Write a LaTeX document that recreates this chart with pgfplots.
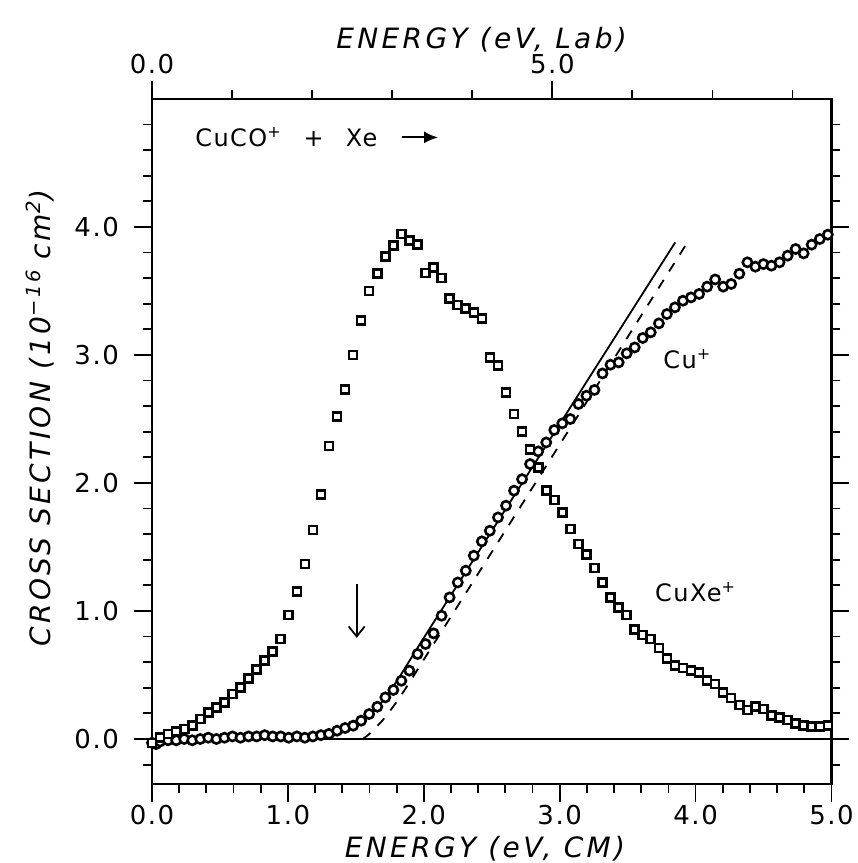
\documentclass[border=0pt]{standalone}
\usepackage{fontspec}
\setmainfont{DejaVu Sans}[LetterSpace=6]
\newfontfamily\labfont{DejaVu Sans}[LetterSpace=12]
\usepackage{pgfplots}
\pgfplotsset{compat=1.18}
\usetikzlibrary{arrows.meta}

\pgfplotstableread{
x y
0.000 -0.03
0.059 0.01
0.118 0.04
0.178 0.06
0.237 0.078
0.296 0.104
0.355 0.156
0.414 0.208
0.474 0.247
0.533 0.286
0.592 0.351
0.651 0.403
0.710 0.474
0.770 0.541
0.829 0.612
0.888 0.682
0.947 0.781
1.006 0.969
1.066 1.153
1.125 1.367
1.184 1.633
1.243 1.91
1.302 2.29
1.362 2.52
1.421 2.73
1.480 3.00
1.539 3.27
1.598 3.50
1.658 3.635
1.717 3.77
1.776 3.854
1.835 3.945
1.894 3.893
1.954 3.862
2.013 3.64
2.072 3.685
2.131 3.60
2.190 3.443
2.250 3.39
2.309 3.364
2.368 3.333
2.427 3.286
2.486 2.981
2.546 2.92
2.605 2.708
2.664 2.539
2.723 2.40
2.782 2.26
2.842 2.12
2.901 1.94
2.960 1.867
3.019 1.77
3.078 1.64
3.138 1.523
3.197 1.44
3.256 1.336
3.315 1.223
3.374 1.106
3.434 1.028
3.493 0.969
3.552 0.854
3.611 0.812
3.670 0.781
3.730 0.711
3.789 0.63
3.848 0.573
3.907 0.555
3.966 0.534
4.026 0.52
4.085 0.455
4.144 0.43
4.203 0.364
4.262 0.32
4.322 0.266
4.381 0.227
4.440 0.252
4.499 0.234
4.558 0.182
4.618 0.169
4.677 0.148
4.736 0.122
4.795 0.104
4.854 0.10
4.914 0.10
4.973 0.104
}\cuxe

\pgfplotstableread{
x y
0.000 -0.03
0.030 -0.04
0.059 -0.02
0.118 -0.01
0.178 -0.01
0.237 0.00
0.296 -0.01
0.355 0.00
0.414 0.01
0.474 0.00
0.533 0.01
0.592 0.02
0.651 0.01
0.710 0.02
0.770 0.02
0.829 0.03
0.888 0.02
0.947 0.02
1.006 0.01
1.066 0.02
1.125 0.01
1.184 0.02
1.243 0.03
1.302 0.04
1.362 0.065
1.421 0.086
1.480 0.104
1.539 0.143
1.598 0.195
1.658 0.252
1.717 0.325
1.776 0.383
1.835 0.455
1.894 0.534
1.954 0.664
2.013 0.742
2.072 0.825
2.131 0.963
2.190 1.106
2.250 1.223
2.309 1.315
2.368 1.432
2.427 1.544
2.486 1.627
2.546 1.731
2.605 1.823
2.664 1.94
2.723 2.03
2.782 2.148
2.842 2.247
2.901 2.317
2.960 2.414
3.019 2.466
3.078 2.50
3.138 2.617
3.197 2.682
3.256 2.727
3.315 2.856
3.374 2.924
3.434 2.942
3.493 3.013
3.552 3.059
3.611 3.133
3.670 3.177
3.730 3.247
3.789 3.32
3.848 3.372
3.907 3.424
3.966 3.45
4.026 3.477
4.085 3.534
4.144 3.59
4.203 3.534
4.262 3.555
4.322 3.635
4.381 3.724
4.440 3.69
4.499 3.71
4.558 3.698
4.618 3.724
4.677 3.776
4.736 3.828
4.795 3.794
4.854 3.862
4.914 3.906
4.973 3.94
}\cuplus

\begin{document}
\begin{tikzpicture}[font=\fontsize{13}{15}\selectfont]
\pgfplotsset{
  common/.style={
    at={(0,0)}, anchor=south west,
    scale only axis, width=339.75pt, height=342.4pt,
    axis line style={line width=1.3pt},
    every tick/.style={black, line width=0.9pt},
    tick align=outside,
    major tick length=9pt, minor tick length=4.5pt,
    /pgf/number format/assume math mode=true,
    /pgf/number format/fixed,
    /pgf/number format/fixed zerofill,
    /pgf/number format/precision=1,
    label style={font=\fontsize{14}{16}\labfont\itshape},
  },
}
\begin{axis}[common,
  xmin=0, xmax=5, ymin=-0.35, ymax=5,
  xtick={0,1,2,3,4,5}, minor xtick={0.2,0.4,...,4.9},
  ytick={0,1,2,3,4}, minor ytick={-0.2,0.2,0.4,0.6,0.8,1.2,1.4,1.6,1.8,2.2,2.4,2.6,2.8,3.2,3.4,3.6,3.8,4.2,4.4,4.6,4.8},
  xtick pos=left, ytick pos=both, yticklabel pos=left,
  yticklabel style={xshift=-4pt},
  xticklabel style={yshift=2pt},
  xlabel={ENERGY (eV, CM)},
  ylabel={CROSS SECTION (10\textsuperscript{−16}\,\,cm\textsuperscript{2})},
  xlabel style={at={(axis description cs:0.49,-0.095)}, anchor=center},
  ylabel style={at={(axis description cs:-0.165,0.534)}, anchor=center},
  clip=false,
]
\addplot[black, line width=0.9pt] coordinates {(0,0) (5,0)};
\addplot[black, line width=0.9pt, smooth, tension=0.4] coordinates {
 (1.2,0.0) (1.35,0.03) (1.5,0.1) (1.6,0.18) (1.7,0.3) (1.8,0.45) (1.9,0.62) (2.0,0.79) (2.5,1.625) (3.0,2.46) (3.85,3.88)};
\addplot[black, line width=0.9pt, dash pattern=on 5pt off 5pt, smooth, tension=0.4] coordinates {
 (1.55,0.0) (1.6,0.04) (1.7,0.15) (1.8,0.29) (1.9,0.45) (2.0,0.62) (2.5,1.46) (3.0,2.30) (3.5,3.14) (3.94,3.88)};
\addplot[only marks, mark=*, mark size=2.3pt, mark options={line width=1.3pt, draw=black, fill=white}] table {\cuplus};
\addplot[only marks, mark=square*, mark size=2.0pt, mark options={line width=1.3pt, draw=black, fill=white}] table {\cuxe};
\draw[line width=0.9pt, -{Straight Barb[length=5pt,width=8pt]}] (axis cs:1.506,1.21) -- (axis cs:1.506,0.79);
\draw[line width=1pt, -{Latex[length=7pt,width=6pt]}] (axis cs:1.84,4.70) -- (axis cs:2.105,4.70);
\node[anchor=west, inner sep=0pt, font=\fontsize{12}{14}\selectfont] at (axis cs:0.316,4.70) {CuCO\textsuperscript{+}\hspace{11pt}+\hspace{11pt}Xe};
\node[anchor=west, inner sep=0pt, font=\fontsize{12}{14}\selectfont] at (axis cs:3.76,2.97) {Cu\textsuperscript{+}};
\node[anchor=west, inner sep=0pt, font=\fontsize{12}{14}\selectfont] at (axis cs:3.70,1.15) {CuXe\textsuperscript{+}};
\end{axis}
\begin{axis}[common,
  xmin=0, xmax=8.487, ymin=-0.35, ymax=5,
  axis x line*=top, axis y line=none,
  xtick={0,5}, minor xtick={1,2,3,4,6,7,8},
  xlabel={ENERGY (eV, Lab)},
  xlabel style={at={(axis description cs:0.485,1.086)}, anchor=center},
]
\addplot[draw=none] coordinates {(0,0)};
\end{axis}
\pgfresetboundingbox
\path[use as bounding box] (-76pt,-39.6pt) rectangle (352.75pt,391.9pt);
\end{tikzpicture}
\end{document}
